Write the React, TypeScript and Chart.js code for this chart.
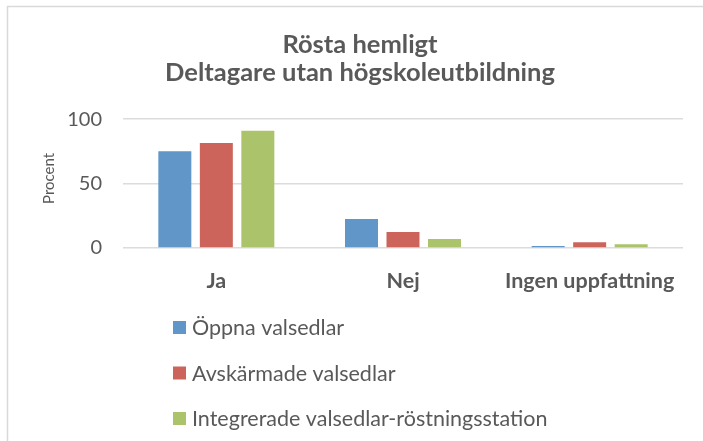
import React, { useEffect, useRef } from 'react';
import { Chart, registerables } from 'chart.js';

Chart.register(...registerables);

const titleLines = ['Rösta hemligt', 'Deltagare utan högskoleutbildning'];
const categories = ['Ja', 'Nej', 'Ingen uppfattning'];
const seriesNames = ['Öppna valsedlar', 'Avskärmade valsedlar', 'Integrerade valsedlar-röstningsstation'];
const oppnaValues = [75, 22.5, 1.5];
const avskarmadeValues = [81.5, 12.5, 4.5];
const integreradeValues = [91, 7, 3];
const yTickValues = [0, 50, 100];
const yAxisTitle = 'Procent';
const seriesColors = ['#6196c9', '#cc645c', '#abc46b'];

const TEXT = '#595959';
const FONT = 'Lato, "Open Sans", sans-serif';

const framePlugin = {
  id: 'frame',
  beforeDraw(chart: any) {
    const { ctx, width, height } = chart;
    ctx.save();
    ctx.fillStyle = '#ffffff';
    ctx.fillRect(0, 0, width, height);
    ctx.strokeStyle = '#d9d9d9';
    ctx.lineWidth = 1.5;
    ctx.beginPath();
    ctx.moveTo(7.5, height);
    ctx.lineTo(7.5, 6.5);
    ctx.lineTo(width, 6.5);
    ctx.stroke();
    ctx.restore();
  },
};

const yTitlePlugin = {
  id: 'yTitle',
  afterDraw(chart: any) {
    const { ctx, chartArea } = chart;
    ctx.save();
    ctx.font = `15px ${FONT}`;
    ctx.fillStyle = TEXT;
    ctx.textAlign = 'center';
    ctx.textBaseline = 'middle';
    ctx.translate(49, chartArea.top + (chartArea.bottom - chartArea.top) * 0.46);
    ctx.rotate(-Math.PI / 2);
    ctx.fillText(yAxisTitle, 0, 0);
    ctx.restore();
  },
};

const verticalLegendPlugin = {
  id: 'verticalLegend',
  afterDraw(chart: any) {
    const { ctx } = chart;
    const x0 = 173;
    const y0 = chart.chartArea.bottom + 79.5;
    const step = 45.5;
    const box = 13;
    ctx.save();
    ctx.font = `21.5px ${FONT}`;
    ctx.textBaseline = 'middle';
    ctx.textAlign = 'left';
    chart.data.datasets.forEach((ds: any, i: number) => {
      const cy = y0 + i * step;
      ctx.fillStyle = ds.backgroundColor;
      ctx.fillRect(x0, cy - box / 2, box, box);
      ctx.fillStyle = TEXT;
      ctx.fillText(ds.label, x0 + box + 6, cy + 1);
    });
    ctx.restore();
  },
};

export default function App() {
  const canvasRef = useRef<HTMLCanvasElement | null>(null);

  useEffect(() => {
    if (!canvasRef.current) return;
    const values = [oppnaValues, avskarmadeValues, integreradeValues];
    const chart = new Chart(canvasRef.current, {
      type: 'bar',
      data: {
        labels: categories,
        datasets: seriesNames.map((name, i) => ({
          label: name,
          data: values[i],
          backgroundColor: seriesColors[i],
          borderWidth: 0,
          categoryPercentage: 0.667,
          barPercentage: 0.795,
        })),
      },
      options: {
        animation: false,
        responsive: true,
        maintainAspectRatio: false,
        layout: { padding: { top: 8, left: 37, right: 20, bottom: 143 } },
        plugins: {
          legend: { display: false },
          tooltip: { enabled: false },
          title: {
            display: true,
            text: titleLines,
            color: TEXT,
            font: { family: FONT, size: 25.5, weight: 'bold', lineHeight: 1.1 },
            padding: { top: 23, bottom: 32 },
          },
        },
        scales: {
          x: {
            grid: { display: false, drawTicks: false },
            border: { display: false },
            ticks: {
              color: TEXT,
              font: { family: FONT, size: 21.5, weight: 'bold' },
              padding: 20,
              maxRotation: 0,
            },
            afterFit: (scale: any) => {
              scale.height = 50;
            },
          },
          y: {
            min: 0,
            max: 100,
            afterBuildTicks: (scale: any) => {
              scale.ticks = yTickValues.map((v) => ({ value: v }));
            },
            grid: { color: '#dcdcdc', lineWidth: 1.5, drawTicks: false },
            border: { display: false },
            ticks: {
              color: TEXT,
              font: { family: FONT, size: 20 },
              padding: 21,
            },
            afterFit: (scale: any) => {
              scale.width = 86;
            },
          },
        },
      },
      plugins: [framePlugin, yTitlePlugin, verticalLegendPlugin],
    });
    return () => chart.destroy();
  }, []);

  return (
    <div style={{ position: 'absolute', left: 0, top: 0, width: 703, height: 441 }}>
      <canvas ref={canvasRef} />
    </div>
  );
}
